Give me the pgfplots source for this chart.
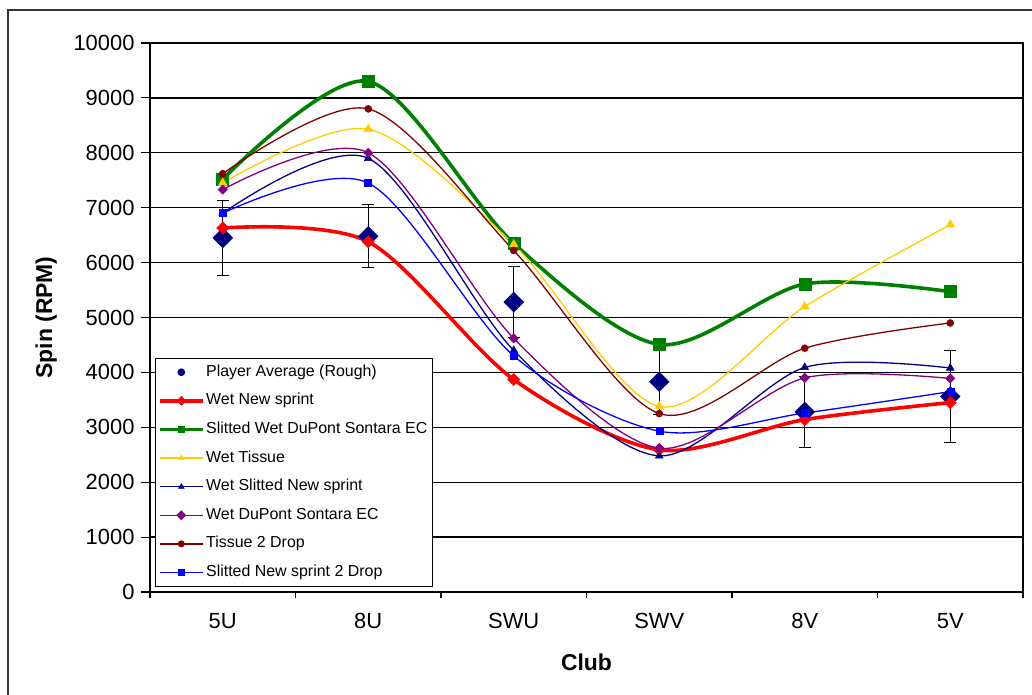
\documentclass[border=0pt]{standalone}
\usepackage{fontspec}
\setmainfont{Liberation Sans}
\usepackage{pgfplots}
\pgfplotsset{compat=1.18}
\usetikzlibrary{calc}
\definecolor{cnavy}{RGB}{0,0,128}
\definecolor{cred}{RGB}{255,0,0}
\definecolor{cgreen}{RGB}{0,128,0}
\definecolor{cyellow}{RGB}{255,204,0}
\definecolor{cpurple}{RGB}{128,0,128}
\definecolor{cmaroon}{RGB}{128,0,0}
\definecolor{cblue}{RGB}{0,0,255}
\begin{document}
\begin{tikzpicture}
\begin{axis}[
  scale only axis, width=873bp, height=549bp,
  xmin=-0.5, xmax=5.5, ymin=0, ymax=10000,
  xtick={0,1,2,3,4,5}, xticklabels={5U,8U,SWU,SWV,8V,5V},
  minor xtick={-0.5,0.5,1.5,2.5,3.5,4.5,5.5},
  ytick={0,1000,2000,3000,4000,5000,6000,7000,8000,9000,10000},
  tick pos=left, tick align=outside,
  major tick length=9bp, minor tick length=6bp,
  major x tick style={draw=none},
  tick style={black, line width=1.1bp},
  ymajorgrids, grid style={black, line width=1.3bp},
  axis line style={black, line width=1.3bp},
  scaled y ticks=false,
  /pgf/number format/1000 sep={},
  /pgf/number format/assume math mode=true,
  ticklabel style={font=\fontsize{22}{26}\selectfont},
  xticklabel style={yshift=-9bp},
  yticklabel style={xshift=-3bp},
  xlabel={Club}, ylabel={Spin (RPM)},
  label style={font=\bfseries\fontsize{23}{27}\selectfont},
  xlabel style={at={(axis description cs:0.5,-0.1275)}, anchor=center},
  ylabel style={at={(axis description cs:-0.119,0.5)}, anchor=center},
  legend cell align=left,
  legend style={at={(axis description cs:0.0057,0.0091)}, anchor=south west,
    draw=black, line width=1.1bp, fill=white,
    font=\fontsize{16}{19}\selectfont,
    row sep=8.6bp, inner xsep=3bp, inner ysep=4bp,
    nodes={inner sep=2bp, text height=12bp, text depth=4bp}},
  legend image code/.code={\draw[mark repeat=2,mark phase=2,mark size=3.2bp] plot coordinates {(0bp,0bp)(21bp,0bp)(42bp,0bp)};},
]
% Player Average (Rough)
\addplot[only marks, mark=square*, mark size=7bp,
  mark options={rotate=45, draw=cnavy, fill=cnavy},
  legend image code/.code={\fill[cnavy] (21bp,0bp) circle (3.3bp);},
  error bars/.cd, y dir=both, y explicit,
  error bar style={black, line width=1bp},
  error mark options={rotate=90, black, mark size=6bp, line width=1bp}]
  coordinates {
  (0,6450) +- (0,680)
  (1,6480) +- (0,570)
  (2,5280) +- (0,650)
  (3,3830) +- (0,600)
  (4,3280) +- (0,640)
  (5,3560) +- (0,830)
  };
\addlegendentry{Player Average (Rough)}
% Wet New sprint
\addplot[smooth, cred, line width=3.6bp, mark=square*, mark size=4.3bp,
  mark options={rotate=45, fill=cred, line width=0.5bp}]
  coordinates {(0,6630) (1,6380) (2,3870) (3,2590) (4,3140) (5,3450)};
\addlegendentry{Wet New sprint}
% Slitted Wet DuPont Sontara EC
\addplot[smooth, cgreen, line width=3.6bp, mark=square*, mark size=6bp,
  mark options={fill=cgreen, line width=0.5bp}]
  coordinates {(0,7520) (1,9300) (2,6350) (3,4510) (4,5610) (5,5470)};
\addlegendentry{Slitted Wet DuPont Sontara EC}
% Wet Tissue
\addplot[smooth, cyellow, line width=1.3bp, mark=triangle*, mark size=5bp,
  mark options={fill=cyellow, line width=0.5bp}]
  coordinates {(0,7450) (1,8430) (2,6330) (3,3380) (4,5200) (5,6690)};
\addlegendentry{Wet Tissue}
% Wet Slitted New sprint
\addplot[smooth, cnavy, line width=1.3bp, mark=triangle*, mark size=4.5bp,
  mark options={fill=cnavy, line width=0.5bp}]
  coordinates {(0,6900) (1,7900) (2,4400) (3,2480) (4,4090) (5,4080)};
\addlegendentry{Wet Slitted New sprint}
% Wet DuPont Sontara EC
\addplot[smooth, cpurple, line width=1.3bp, mark=square*, mark size=3.3bp,
  mark options={rotate=45, fill=cpurple, line width=0.5bp}]
  coordinates {(0,7330) (1,8000) (2,4620) (3,2620) (4,3900) (5,3890)};
\addlegendentry{Wet DuPont Sontara EC}
% Tissue 2 Drop
\addplot[smooth, cmaroon, line width=1.3bp, mark=*, mark size=3.5bp,
  mark options={fill=cmaroon, line width=0.5bp}]
  coordinates {(0,7620) (1,8800) (2,6220) (3,3250) (4,4440) (5,4900)};
\addlegendentry{Tissue 2 Drop}
% Slitted New sprint 2 Drop
\addplot[smooth, cblue, line width=1.3bp, mark=square*, mark size=3.5bp,
  mark options={fill=cblue, line width=0.5bp}]
  coordinates {(0,6900) (1,7450) (2,4300) (3,2930) (4,3260) (5,3650)};
\addlegendentry{Slitted New sprint 2 Drop}
\end{axis}
\pgfresetboundingbox
\useasboundingbox ($(current axis.south west)+(-150bp,-103bp)$) rectangle ($(current axis.south west)+(882bp,592bp)$);
\draw[line width=1.3bp, black!80] ($(current axis.south west)+(-142bp,-130bp)$) rectangle ($(current axis.south west)+(900bp,582bp)$);
\end{tikzpicture}
\end{document}
